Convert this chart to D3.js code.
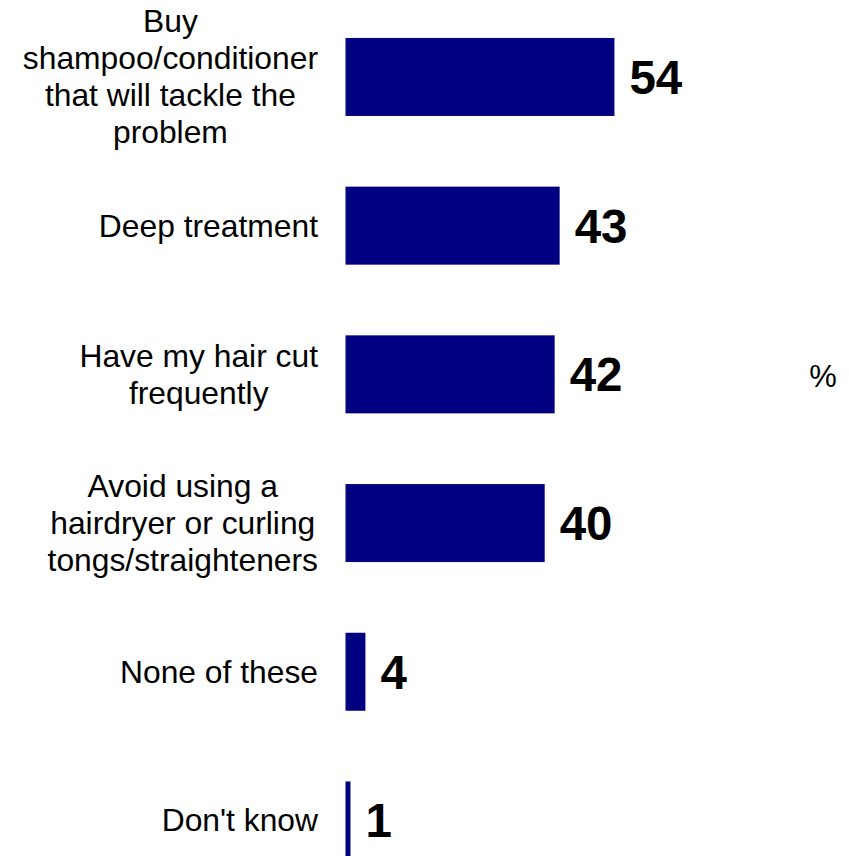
<!DOCTYPE html>
<html>
<head>
<meta charset="utf-8">
<script src="https://cdn.jsdelivr.net/npm/d3@7"></script>
<style>
  html, body { margin: 0; padding: 0; background: #ffffff; overflow: hidden; }
  svg { display: block; }
</style>
</head>
<body>
<svg id="chart" width="849" height="856"></svg>
<script>
// Answer options (each entry split into its display lines) and the share choosing each
const categories = [
  ["Buy", "shampoo/conditioner", "that will tackle the", "problem"],
  ["Deep treatment"],
  ["Have my hair cut", "frequently"],
  ["Avoid using a", "hairdryer or curling", "tongs/straighteners"],
  ["None of these"],
  ["Don't know"]
];
const values = [54, 43, 42, 40, 4, 1];
const unitLabel = "%";

const W = 849, H = 856;
const svg = d3.select("#chart");

const keys = categories.map(c => c.join(" "));
const data = keys.map((k, i) => ({ key: k, lines: categories[i], value: values[i] }));

const x = d3.scaleLinear().domain([0, 100]).range([345.5, 843.5]);
const y = d3.scaleBand()
  .domain(keys)
  .range([2.6, 2.6 + 6 * 148.7])
  .paddingInner(0.4755)
  .paddingOuter(0.4755 / 2);

const font = "Arial, 'Liberation Sans', sans-serif";

// Bars
svg.append("g").selectAll("rect")
  .data(data)
  .join("rect")
  .attr("x", x(0))
  .attr("y", d => y(d.key))
  .attr("width", d => x(d.value) - x(0))
  .attr("height", y.bandwidth())
  .attr("fill", "#000080");

// Value labels
svg.append("g").selectAll("text")
  .data(data)
  .join("text")
  .attr("x", d => x(d.value) + 15)
  .attr("y", d => y(d.key) + y.bandwidth() / 2 + 17)
  .attr("font-family", font)
  .attr("font-weight", "bold")
  .attr("font-size", 47.5)
  .attr("fill", "#000")
  .text(d => d.value);

// Category labels: lines centred on each other, block right-aligned to the bars
const labelRight = 318;
const lineH = 37;
const catG = svg.append("g");
data.forEach(d => {
  const cy = y(d.key) + y.bandwidth() / 2;
  const n = d.lines.length;
  const t = catG.append("text")
    .attr("font-family", font)
    .attr("font-size", 31.8)
    .attr("fill", "#000")
    .attr("text-anchor", "middle");
  const spans = d.lines.map((ln, i) =>
    t.append("tspan")
      .attr("y", cy + (i - (n - 1) / 2) * lineH + 11)
      .text(ln));
  const maxW = d3.max(spans, s => s.node().getComputedTextLength());
  spans.forEach(s => s.attr("x", labelRight - maxW / 2));
});

// Unit marker
svg.append("text")
  .attr("x", 823)
  .attr("y", y(keys[2]) + y.bandwidth() / 2 + 13)
  .attr("text-anchor", "middle")
  .attr("font-family", font)
  .attr("font-size", 31)
  .attr("fill", "#000")
  .text(unitLabel);
</script>
</body>
</html>
